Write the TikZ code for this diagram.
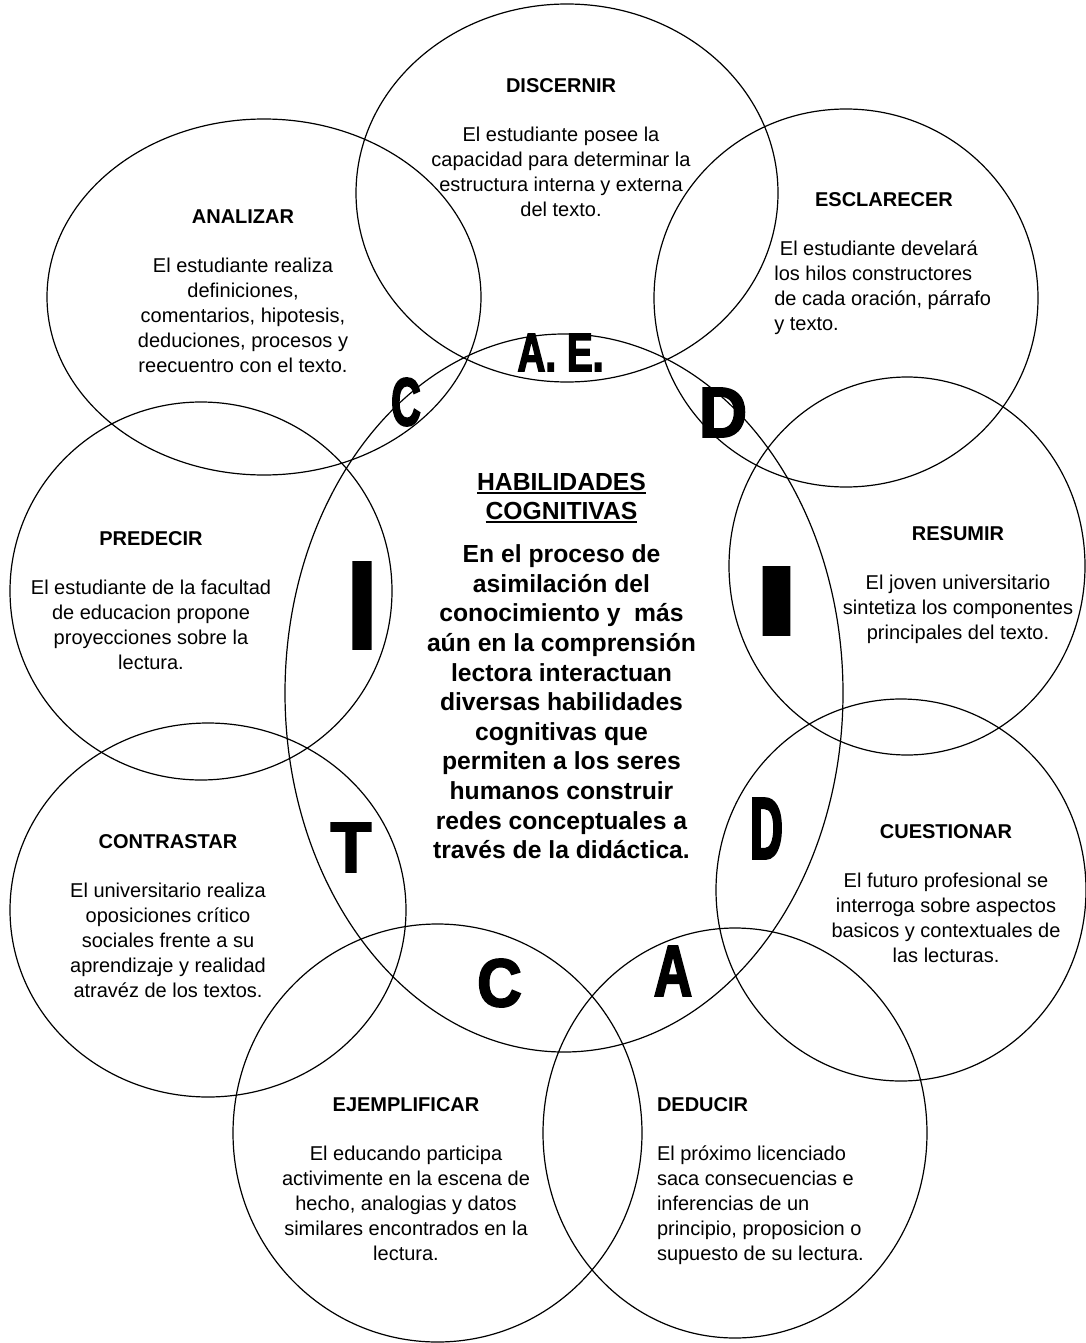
\documentclass[tikz,border=0pt]{standalone}
\usepackage{fontspec}
\usepackage{tikz}
\usetikzlibrary{positioning,shapes.geometric}
\setmainfont{Liberation Sans}
\newfontfamily\artfont[FakeBold=2.5]{Liberation Sans Bold}
\newcommand{\wart}[3]{\fontsize{#1}{#1}\artfont\addfontfeatures{FakeStretch=#2}#3}
\newcommand{\subr}[1]{\vtop{\hbox{#1}\kern1.5pt\hrule height 2pt}}

\begin{document}
\begin{tikzpicture}[x=1pt, y=-1pt, line width=1.2pt,
    ring/.style={draw,ellipse,inner sep=0pt},
    txt/.style={font=\fontsize{20}{25}\selectfont,align=center,anchor=north,inner sep=0pt},
    lefttxt/.style={txt,align=left,anchor=north west},
    core/.style={font=\fontsize{24.7}{29.6}\selectfont\bfseries,align=center,anchor=north,inner sep=0pt},
    wa/.style={inner sep=0pt}]
              \useasboundingbox (0,0) rectangle (1086,1343);

              \node[ring,minimum width=422pt,minimum height=378pt] (discernir) at (567,193) {};
              \node[ring,minimum width=434pt,minimum height=356pt] (analizar) at (264,297) {};
              \node[ring,minimum width=384pt,minimum height=378pt] (esclarecer) at (846,298) {};
              \node[ring,minimum width=382pt,minimum height=378pt] (predecir) at (201,591) {};
              \node[ring,minimum width=356pt,minimum height=378pt] (resumir) at (907,566) {};
              \node[ring,minimum width=396pt,minimum height=374pt] (contrastar) at (208,910) {};
              \node[ring,minimum width=370pt,minimum height=382pt] (cuestionar) at (901,890) {};
              \node[ring,minimum width=409pt,minimum height=418pt] (ejemplificar) at (437.5,1133) {};
              \node[ring,minimum width=384pt,minimum height=410pt] (deducir) at (735,1133) {};
              \node[ring,minimum width=558pt,minimum height=718pt] (centro) at (564,693) {};

              \node[txt] (tdis) at (561,78) {\textbf{DISCERNIR}\\[24pt]El estudiante posee la\\capacidad para determinar la\\estructura interna y externa\\del texto.};
              \node[txt] (tana) at (243,208.7) {\textbf{ANALIZAR}\\[24pt]El estudiante realiza\\definiciones,\\comentarios, hipotesis,\\deduciones, procesos y\\reecuentro con el texto.};
              \node[lefttxt] (tesc) at (773.7,191.7) {\hspace*{40.8pt}\textbf{ESCLARECER}\\[24pt]\hspace*{5.6pt}El estudiante develará\\los hilos constructores\\de cada oración, párrafo\\y texto.};
              \node[txt] (tpre) at (151,530.7) {\textbf{PREDECIR}\\[24pt]El estudiante de la facultad\\de educacion propone\\proyecciones sobre la\\lectura.};
              \node[txt] (tres) at (958,525.7) {\textbf{RESUMIR}\\[24pt]El joven universitario\\sintetiza los componentes\\principales del texto.};
              \node[txt] (tcon) at (168,833.7) {\textbf{CONTRASTAR}\\[24pt]El universitario realiza\\oposiciones crítico\\sociales frente a su\\aprendizaje y realidad\\atravéz de los textos.};
              \node[txt] (tcue) at (946,823.7) {\textbf{CUESTIONAR}\\[24pt]El futuro profesional se\\interroga sobre aspectos\\basicos y contextuales de\\las lecturas.};
              \node[txt] (teje) at (406,1096.7) {\textbf{EJEMPLIFICAR}\\[24pt]El educando participa\\activimente en la escena de\\hecho, analogias y datos\\similares encontrados en la\\lectura.};
              \node[lefttxt] (tded) at (656.4,1096.7) {\textbf{DEDUCIR}\\[24pt]El próximo licenciado\\saca consecuencias e\\inferencias de un\\principio, proposicion o\\supuesto de su lectura.};

              \node[core] (tcen) at (561.5,472.3) {\subr{HABILIDADES}\\\subr{COGNITIVAS}\\[13.4pt]En el proceso de\\asimilación del\\conocimiento y~ más\\aún en la comprensión\\lectora interactuan\\diversas habilidades\\cognitivas que\\permiten a los seres\\humanos construir\\redes conceptuales a\\través de la didáctica.};

              \node[wa] (ae) at (560.5,352.5) {\wart{54.5}{0.71}{A. E.}};
              \node[wa] (c1) at (406,402) {\wart{68}{0.60}{C}};
              \node[wa] (d1) at (723,412.5) {\wart{71.2}{0.94}{D}};
              \node[wa] (i1) at (362,605.5) {\wart{124.3}{0.90}{I}};
              \node[wa] (i2) at (776.5,601) {\wart{97.8}{1.80}{I}};
              \node[wa] (t1) at (351,847.5) {\wart{71.2}{0.94}{T}};
              \node[wa] (d2) at (766.5,828.5) {\wart{88}{0.51}{D}};
              \node[wa] (c2) at (499.5,983) {\wart{68}{0.91}{C}};
              \node[wa] (a1) at (673,971) {\wart{72.6}{0.73}{A}};
            \end{tikzpicture}
\end{document}
